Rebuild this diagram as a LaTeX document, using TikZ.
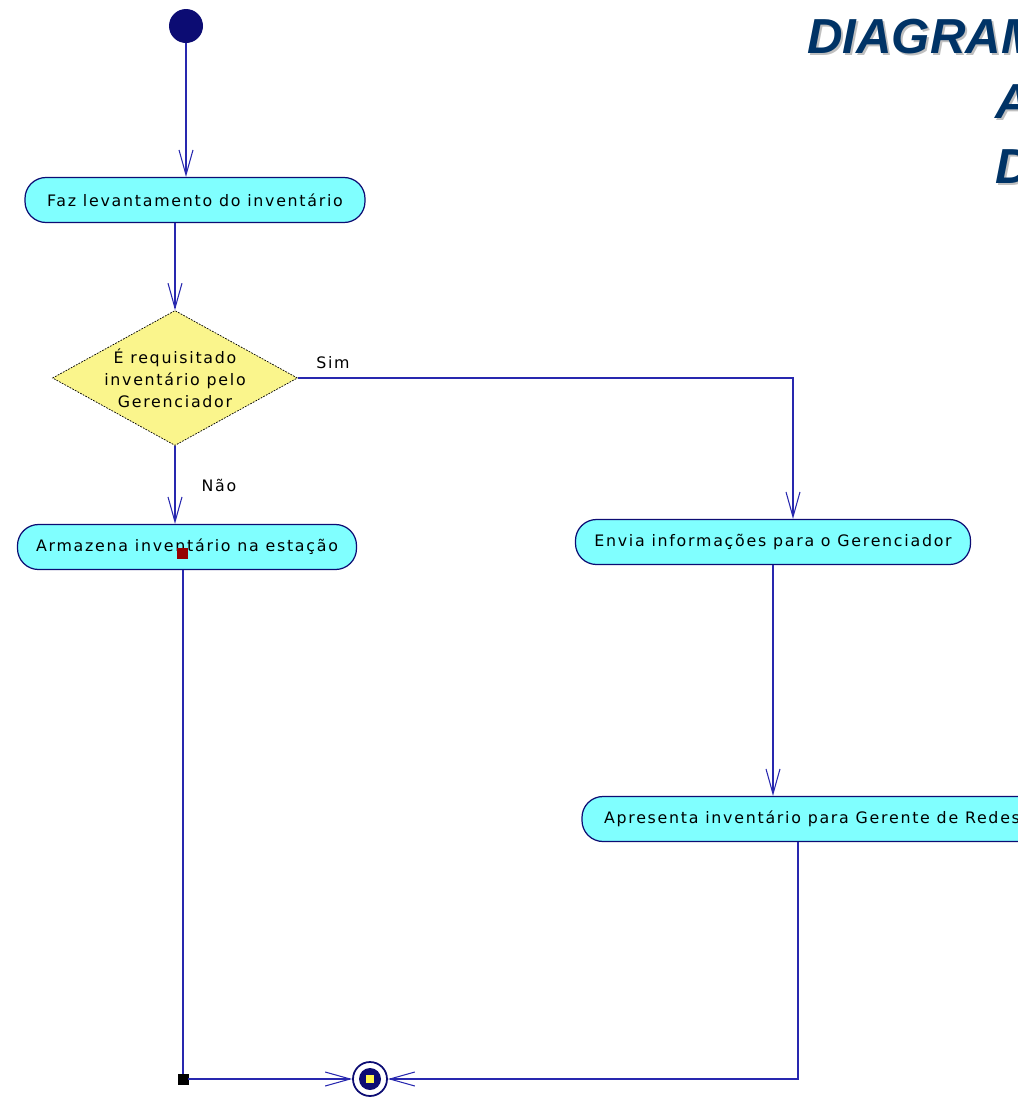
\documentclass[tikz,border=0pt]{standalone}
\usepackage{fontspec}
\usetikzlibrary{shapes.geometric,arrows.meta}
\newfontfamily\umlfont[LetterSpace=11]{DejaVu Sans}
\newfontfamily\titlefont{Liberation Sans}
\definecolor{umlblue}{RGB}{40,40,175}
\definecolor{umlnavy}{RGB}{12,12,115}
\definecolor{actcyan}{RGB}{128,255,255}
\definecolor{decyellow}{RGB}{250,245,140}
\definecolor{titleblue}{RGB}{0,51,102}
\definecolor{markred}{RGB}{150,0,0}

\begin{document}
\begin{tikzpicture}[x=0.2mm,y=-0.2mm,
  activity/.style={draw=umlnavy,fill=actcyan,line width=0.7pt,rounded corners=0.42cm,minimum height=0.9cm,font=\umlfont\fontsize{9}{11}\selectfont},
  decision/.style={diamond,draw=black,dash pattern=on 1pt off 0.7pt,fill=decyellow,minimum width=4.9cm,minimum height=2.7cm,inner sep=0pt},
  dectext/.style={align=center,font=\umlfont\fontsize{9}{12.5}\selectfont},
  flow/.style={draw=umlblue,line width=0.8pt},
  flowarrow/.style={flow,-{Straight Barb[length=5mm,width=2.8mm,line width=0.6pt]}},
  guard/.style={font=\umlfont\fontsize{9}{11}\selectfont},
  title/.style={anchor=base west,font=\titlefont\bfseries\itshape\fontsize{28}{30}\selectfont}]
\useasboundingbox (0,0) rectangle (1018,1101);
\node[title,text=black!25] (shadow1) at (803,55) {DIAGRAM};
\node[title,text=black!25] (shadow2) at (991,120) {A};
\node[title,text=black!25] (shadow3) at (991,185) {D};
\node[title,text=titleblue] (title1) at (801,53) {DIAGRAM};
\node[title,text=titleblue] (title2) at (989,118) {A};
\node[title,text=titleblue] (title3) at (989,183) {D};
\node[circle,fill=umlnavy,minimum size=0.68cm,inner sep=0pt] (start) at (186,26) {};
\node[activity,minimum width=6.8cm] (act1) at (195,200) {Faz levantamento do inventário};
\node[decision,label={[dectext]center:{É requisitado\\inventário pelo\\Gerenciador}}] (dec) at (175,378) {};
\node[activity,minimum width=6.78cm] (act2) at (187,547) {Armazena inventário na estação};
\node[activity,minimum width=7.9cm] (act3) at (773,542) {Envia informações para o Gerenciador};
\node[activity,minimum width=9.2cm] (act4) at (812,819) {Apresenta inventário para Gerente de Redes};
\node[guard] (sim) at (333,363) {Sim};
\node[guard] (nao) at (219,485) {Não};
\node[draw=markred,fill=markred,minimum size=0.2cm,inner sep=0pt] (mark) at (182,553) {};
\node[draw=black,fill=black,minimum size=0.2cm,inner sep=0pt] (corner) at (183,1079) {};
\node[circle,draw=umlnavy,fill=white,line width=1pt,minimum size=0.68cm,inner sep=0pt] (final) at (370,1079) {};
\fill[umlnavy] (final) circle (0.22cm);
\fill[yellow!70] ([shift={(-4,-4)}]final.center) rectangle ([shift={(4,4)}]final.center);
\coordinate (simturn) at (793,378);
\coordinate (redesturn) at (798,1079);
\draw[flowarrow] (start.south) -- (start |- act1.north);
\draw[flowarrow] (act1.south -| dec.north) -- (dec.north);
\draw[flowarrow] (dec.south) -- (dec.south |- act2.north);
\draw[flowarrow] (dec.east) -- (simturn) -- (simturn |- act3.north);
\draw[flowarrow] (act3.south) -- (act3.south |- act4.north);
\draw[flow] (act2.south -| corner) -- (corner);
\draw[flowarrow] (corner) -- (final.west);
\draw[flowarrow] (act4.south -| redesturn) -- (redesturn) -- (final.east);
\end{tikzpicture}
\end{document}
